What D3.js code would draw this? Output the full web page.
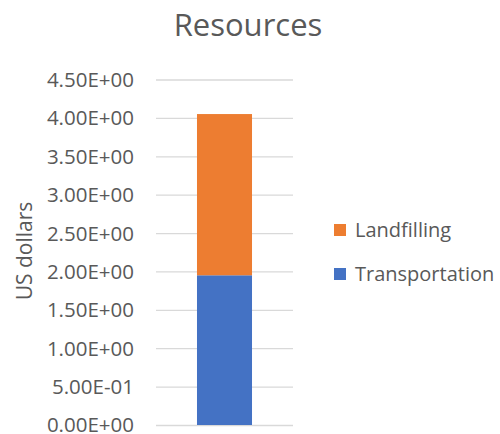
<!DOCTYPE html>
<html>
<head>
<meta charset="utf-8">
<script src="https://cdn.jsdelivr.net/npm/d3@7"></script>
<style>
  body { margin: 0; background: #fff; }
  text { font-family: "Open Sans", Lato, sans-serif; fill: #595959; }
</style>
</head>
<body>
<div id="chart"></div>
<script>
// data
const categories = ["Resources"]
const seriesNames = ["Transportation", "Landfilling"]
const transportation = [1.95]
const landfilling = [2.10]
const tickValues = [0, 0.5, 1, 1.5, 2, 2.5, 3, 3.5, 4, 4.5]
const colors = { Transportation: "#4472C4", Landfilling: "#ED7D31" }

const width = 500, height = 434
const plot = { left: 156, right: 293, top: 79.5, bottom: 425 }

const svg = d3.select("#chart").append("svg")
  .attr("width", width).attr("height", height)

// excel style exponent labels
function sci(v) {
  const [m, e] = v.toExponential(2).toUpperCase().split("E")
  const sign = e[0]
  const digits = e.slice(1).padStart(2, "0")
  return m + "E" + sign + digits
}

const y = d3.scaleLinear().domain([0, 4.5]).range([plot.bottom, plot.top])
const x = d3.scaleBand().domain(categories)
  .range([plot.left, plot.right]).paddingInner(0).paddingOuter(0.745)

// gridlines
const grid = svg.append("g")
  .attr("transform", `translate(${plot.left},0)`)
  .call(d3.axisLeft(y).tickValues(tickValues).tickSize(-(plot.right - plot.left)).tickFormat(""))
grid.select(".domain").remove()
grid.selectAll("line").attr("stroke", "#d9d9d9").attr("stroke-width", 1.3)

// stacked bar
const rows = categories.map((c, i) => ({ cat: c, Transportation: transportation[i], Landfilling: landfilling[i] }))
const stacked = d3.stack().keys(seriesNames)(rows)

svg.append("g").selectAll("g")
  .data(stacked)
  .join("g")
  .attr("fill", d => colors[d.key])
  .selectAll("rect")
  .data(d => d)
  .join("rect")
  .attr("x", d => x(d.data.cat))
  .attr("width", x.bandwidth())
  .attr("y", d => y(d[1]))
  .attr("height", d => y(d[0]) - y(d[1]))

// y axis labels
const yAxis = svg.append("g")
  .attr("transform", "translate(134,0)")
  .call(d3.axisLeft(y).tickValues(tickValues).tickSize(0).tickPadding(0).tickFormat(sci))
yAxis.select(".domain").remove()
yAxis.selectAll("text")
  .attr("fill", "#595959")
  .style("font-size", "20.5px")
  .attr("dy", "0.34em")

// titles
svg.append("text")
  .attr("x", 248).attr("y", 36)
  .attr("text-anchor", "middle")
  .style("font-size", "31px")
  .text("Resources")

svg.append("text")
  .attr("transform", "translate(32,251) rotate(-90)")
  .attr("text-anchor", "middle")
  .style("font-size", "21px")
  .text("US dollars")

// legend
const legendItems = ["Landfilling", "Transportation"]
const legend = svg.append("g")
  .selectAll("g")
  .data(legendItems)
  .join("g")
  .attr("transform", (d, i) => `translate(334,${224 + i * 44})`)
legend.append("rect")
  .attr("width", 12).attr("height", 12)
  .attr("fill", d => colors[d])
legend.append("text")
  .attr("x", 21).attr("y", 13)
  .style("font-size", "20px")
  .text(d => d)
</script>
</body>
</html>
